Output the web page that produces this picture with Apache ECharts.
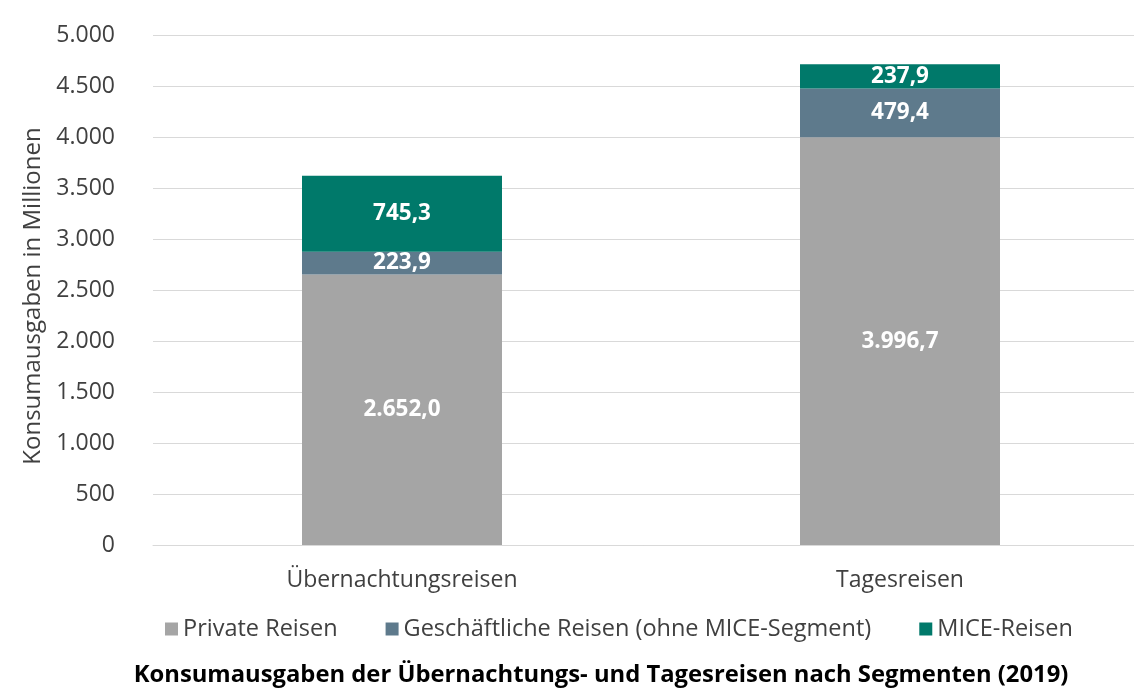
<!DOCTYPE html>
<html>
<head>
<meta charset="utf-8">
<script src="https://cdn.jsdelivr.net/npm/echarts@6/dist/echarts.min.js"></script>
<style>
  html, body { margin: 0; padding: 0; background: #fff; }
  #chart { width: 1134px; height: 694px; }
</style>
</head>
<body>
<div id="chart"></div>
<script>
var categories = ["Übernachtungsreisen", "Tagesreisen"];
var privateReisen = [2652.0, 3996.7];
var geschaeftlich = [223.9, 479.4];
var miceReisen = [745.3, 237.9];
var seriesNames = ["Private Reisen", "Geschäftliche Reisen (ohne MICE-Segment)", "MICE-Reisen"];
var seriesColors = ["#a5a5a5", "#5e7a8c", "#00796a"];

var FONT = "'Open Sans', sans-serif";

function deNum(v, d) {
    return v.toLocaleString("de-DE", {minimumFractionDigits: d, maximumFractionDigits: d});
}

function makeSeries(name, data, color) {
    return {
        name: name,
        type: "bar",
        stack: "total",
        data: data,
        barWidth: 200,
        itemStyle: {color: color},
        label: {
            show: true,
            position: "inside",
            color: "#fff",
            fontFamily: FONT,
            fontWeight: "bold",
            fontSize: 22.5,
            formatter: function (p) { return deNum(p.value, 1) }
        }
    }
}

var chart = echarts.init(document.getElementById("chart"));
chart.setOption({
    animation: false,
    textStyle: {fontFamily: FONT},
    title: {
        text: "Konsumausgaben der Übernachtungs- und Tagesreisen nach Segmenten (2019)",
        left: 596, textAlign: "center",
        top: 658,
        textStyle: {fontFamily: FONT, fontWeight: "bold", fontSize: 23.8, color: "#000"}
    },
    legend: {
        top: 612,
        left: 160,
        itemWidth: 13, itemHeight: 13, itemGap: 48,
        icon: "rect",
        textStyle: {fontFamily: FONT, fontSize: 23.5, color: "#404040"},
        data: seriesNames
    },
    grid: {left: 153, top: 35, width: 996, bottom: 149, outerBoundsMode: "none"},
    xAxis: {
        type: "category",
        data: categories,
        axisTick: {show: false},
        axisLine: {lineStyle: {color: "#d9d9d9"}},
        axisLabel: {fontFamily: FONT, fontSize: 23, color: "#404040", margin: 24}
    },
    yAxis: {
        type: "value",
        min: 0, max: 5000, interval: 500,
        name: "Konsumausgaben in Millionen",
        nameLocation: "middle",
        nameGap: 108,
        nameTextStyle: {fontFamily: FONT, fontSize: 24, color: "#404040", padding: [0, 12, 0, 0]},
        axisLabel: {
            fontFamily: FONT, fontSize: 23, color: "#404040", margin: 38,
            formatter: function (v) { return deNum(v, 0) }
        },
        splitLine: {lineStyle: {color: "#d9d9d9"}}
    },
    series: [
        makeSeries(seriesNames[0], privateReisen, seriesColors[0]),
        makeSeries(seriesNames[1], geschaeftlich, seriesColors[1]),
        makeSeries(seriesNames[2], miceReisen, seriesColors[2])
    ]
});
</script>
</body>
</html>
